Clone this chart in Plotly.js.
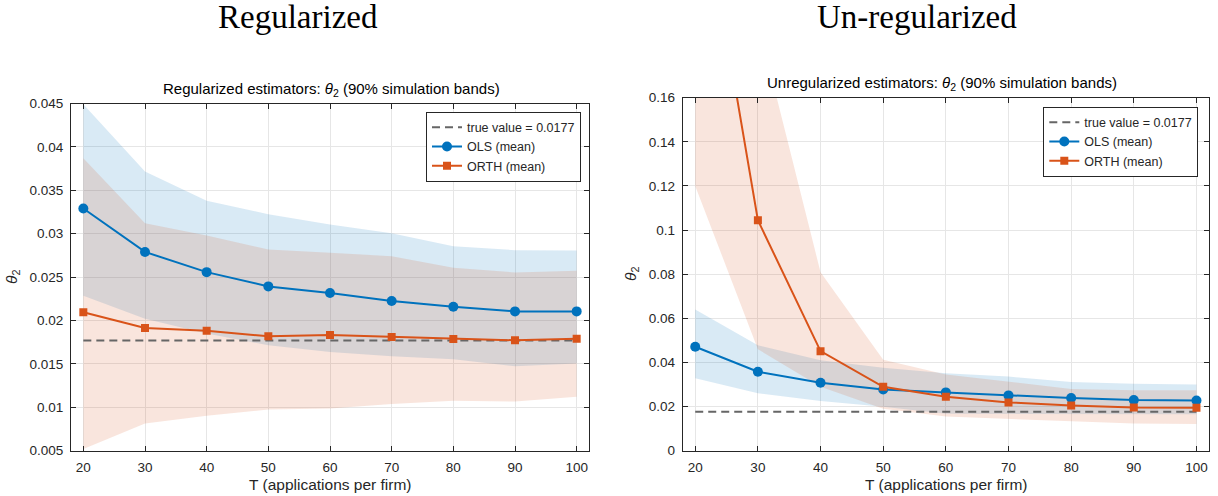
<!DOCTYPE html>
<html>
<head>
<meta charset="utf-8">
<script src="https://cdn.plot.ly/plotly-3.0.1.min.js"></script>
<style>html,body{margin:0;padding:0;background:#fff;}#chart{width:1218px;height:496px;}</style>
</head>
<body>
<div id="chart"></div>
<script>
// ---- data ----
const T = [20, 30, 40, 50, 60, 70, 80, 90, 100];
const trueValue = 0.0177;

// Regularized
const regOlsMean  = [0.0329, 0.0279, 0.02557, 0.02393, 0.02316, 0.02224, 0.02159, 0.02105, 0.02105];
const regOlsLo    = [0.02285, 0.02021, 0.01849, 0.01715, 0.01638, 0.01588, 0.01554, 0.01473, 0.01504];
const regOlsHi    = [0.0449, 0.03718, 0.03381, 0.03224, 0.03105, 0.03006, 0.02856, 0.0281, 0.02807];
const regOrthMean = [0.02094, 0.01914, 0.01883, 0.01818, 0.01833, 0.0181, 0.01787, 0.01772, 0.01791];
const regOrthLo   = [0.0052, 0.00814, 0.00902, 0.00975, 0.00987, 0.01037, 0.01075, 0.01067, 0.01121];
const regOrthHi   = [0.0387, 0.03121, 0.02979, 0.02818, 0.0278, 0.02741, 0.02607, 0.02554, 0.02573];

// Un-regularized
const unOlsMean  = [0.0471, 0.03577, 0.0308, 0.02777, 0.02642, 0.02506, 0.02385, 0.02294, 0.02279];
const unOlsLo    = [0.0328, 0.026, 0.0225, 0.0199, 0.0167, 0.0166, 0.0166, 0.0165, 0.0165];
const unOlsHi    = [0.064, 0.0478, 0.041, 0.0376, 0.0351, 0.0336, 0.0311, 0.0303, 0.0300];
const unOrthMean = [0.271, 0.10445, 0.04513, 0.02898, 0.02445, 0.02189, 0.02053, 0.01962, 0.01947];
const unOrthLo   = [0.12, 0.046, 0.029, 0.019, 0.0155, 0.0144, 0.0133, 0.0123, 0.0121];
const unOrthHi   = [0.30, 0.194, 0.0809, 0.0412, 0.0345, 0.0311, 0.0280, 0.0274, 0.0274];

const yTicksReg = [0.005, 0.01, 0.015, 0.02, 0.025, 0.03, 0.035, 0.04, 0.045];
const yTicksUn  = [0, 0.02, 0.04, 0.06, 0.08, 0.1, 0.12, 0.14, 0.16];

// ---- styles ----
const BLUE = '#0072BD', ORANGE = '#D95319';
const BLUE_FILL = 'rgba(0,114,189,0.15)', ORANGE_FILL = 'rgba(217,83,25,0.15)';
const TXT = '#262626';
const FONT = 'Liberation Sans, Arial, Helvetica, sans-serif';
const SERIF = 'Liberation Serif, Times New Roman, serif';

function panel(xa, ya, leg, olsM, olsL, olsH, orM, orL, orH) {
  const base = {x: T, xaxis: xa, yaxis: ya, hoverinfo: 'skip'};
  return [
    Object.assign({}, base, {y: olsL, mode: 'lines', line: {width: 0, color: BLUE}, showlegend: false}),
    Object.assign({}, base, {y: olsH, mode: 'lines', line: {width: 0, color: BLUE}, fill: 'tonexty', fillcolor: BLUE_FILL, showlegend: false}),
    Object.assign({}, base, {y: orL, mode: 'lines', line: {width: 0, color: ORANGE}, showlegend: false}),
    Object.assign({}, base, {y: orH, mode: 'lines', line: {width: 0, color: ORANGE}, fill: 'tonexty', fillcolor: ORANGE_FILL, showlegend: false}),
    Object.assign({}, base, {y: T.map(() => trueValue), mode: 'lines', name: 'true value = 0.0177', legend: leg,
      line: {color: '#666666', width: 2, dash: '8px,5px'}}),
    Object.assign({}, base, {y: olsM, mode: 'lines+markers', name: 'OLS (mean)', legend: leg,
      line: {color: BLUE, width: 2}, marker: {symbol: 'circle', size: 10, color: BLUE}}),
    Object.assign({}, base, {y: orM, mode: 'lines+markers', name: 'ORTH (mean)', legend: leg,
      line: {color: ORANGE, width: 2}, marker: {symbol: 'square', size: 8, color: ORANGE}})
  ];
}

const data = [].concat(
  panel('x', 'y', 'legend', regOlsMean, regOlsLo, regOlsHi, regOrthMean, regOrthLo, regOrthHi),
  panel('x2', 'y2', 'legend2', unOlsMean, unOlsLo, unOlsHi, unOrthMean, unOrthLo, unOrthHi)
);

const W = 1218, H = 496;
const px = v => v / W, py = v => 1 - v / H;

function xAxis(d, anchor) {
  return {domain: d, anchor: anchor, range: [18, 102], tickvals: T, ticks: 'inside', ticklen: 5,
    tickcolor: TXT, showline: true, linecolor: TXT, linewidth: 1, mirror: 'ticks',
    showgrid: true, gridcolor: '#e6e6e6', zeroline: false, ticklabelstandoff: 4,
    tickfont: {family: FONT, size: 13.5, color: TXT}};
}
function yAxis(d, anchor, range, vals) {
  return {domain: d, anchor: anchor, range: range, tickvals: vals, ticks: 'inside', ticklen: 5,
    tickcolor: TXT, showline: true, linecolor: TXT, linewidth: 1, mirror: 'ticks',
    showgrid: true, gridcolor: '#e6e6e6', zeroline: false, ticklabelstandoff: 4,
    tickfont: {family: FONT, size: 13.5, color: TXT}};
}

const legendBase = {bgcolor: '#ffffff', bordercolor: TXT, borderwidth: 1, traceorder: 'normal',
  font: {family: FONT, size: 12.5, color: TXT}, xanchor: 'right', yanchor: 'top', tracegroupgap: 0};

function note(text, x, y, size, family, color, angle) {
  return {text: text, x: px(x), y: py(y), xref: 'paper', yref: 'paper', showarrow: false,
    xanchor: 'center', yanchor: 'middle', textangle: angle || 0, font: {family: family, size: size, color: color}};
}

const layout = {
  width: W, height: H,
  margin: {l: 0, r: 0, t: 0, b: 0},
  paper_bgcolor: '#ffffff', plot_bgcolor: '#ffffff',
  showlegend: true,
  xaxis: xAxis([px(71), px(589)], 'y'),
  yaxis: yAxis([py(450.7), py(103.5)], 'x', [0.005, 0.045], yTicksReg),
  xaxis2: xAxis([px(682.7), px(1209)], 'y2'),
  yaxis2: yAxis([py(450.7), py(97.7)], 'x2', [0, 0.16], yTicksUn),
  legend: Object.assign({}, legendBase, {x: px(581), y: py(111.7)}),
  legend2: Object.assign({}, legendBase, {x: px(1198.3), y: py(106.7)}),
  annotations: [
    note('Regularized', 298, 17, 33, SERIF, '#000'),
    note('Un-regularized', 917, 17, 33, SERIF, '#000'),
    note('Regularized estimators: <i>θ</i><sub>2</sub> (90% simulation bands)', 331, 89, 15, FONT, '#000'),
    note('Unregularized estimators: <i>θ</i><sub>2</sub> (90% simulation bands)', 942, 83, 15, FONT, '#000'),
    note('T (applications per firm)', 330, 484, 15.5, FONT, TXT),
    note('T (applications per firm)', 946, 484, 15.5, FONT, TXT),
    note('<i>θ</i><sub>2</sub>', 12, 277, 15.5, FONT, TXT, -90),
    note('<i>θ</i><sub>2</sub>', 631, 274, 15.5, FONT, TXT, -90)
  ]
};

Plotly.newPlot('chart', data, layout, {displayModeBar: false, staticPlot: true});
</script>
</body>
</html>
